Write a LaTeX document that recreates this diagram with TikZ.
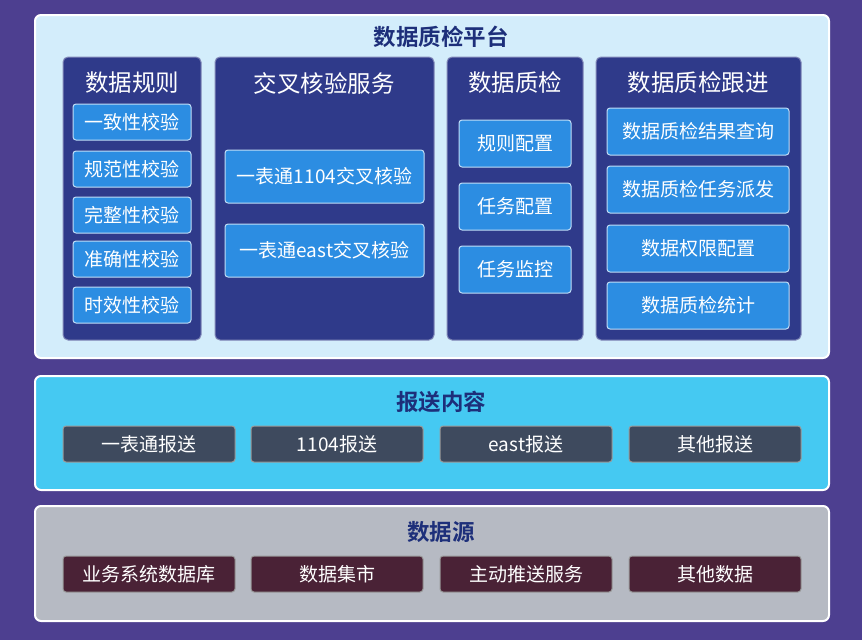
\documentclass[tikz,border=0pt]{standalone}
\usepackage{fontspec}
\newfontfamily\cjk{Noto Sans CJK SC}
\newfontfamily\cjkb{Noto Sans CJK SC Bold}
\definecolor{bgp}{HTML}{4D3F90}
\definecolor{toppan}{HTML}{D3EDFB}
\definecolor{midpan}{HTML}{45C9F2}
\definecolor{botpan}{HTML}{B6BAC3}
\definecolor{navy}{HTML}{2F3A8A}
\definecolor{btnblue}{HTML}{2C8DE2}
\definecolor{slate}{HTML}{3E4A5E}
\definecolor{maroon}{HTML}{4A2236}
\definecolor{ttl}{HTML}{1D2F7A}
\tikzset{
 panel/.style={draw=white,line width=2pt,rounded corners=6pt},
 col/.style={fill=navy,draw=navy!60!white,line width=1pt,rounded corners=5pt},
 btn/.style={fill=btnblue,draw=white!70!btnblue,line width=1pt,rounded corners=3pt},
 dbtn/.style={draw=white!60!black,line width=1pt,rounded corners=3pt},
 btxt/.style={text=white,font=\cjk\fontsize{19}{22}\selectfont},
 ptitle/.style={text=ttl,font=\cjkb\fontsize{22.5}{26}\selectfont},
 ctitle/.style={text=white,font=\cjk\fontsize{23.5}{27}\selectfont},
}
\newcommand\bx[6]{\node[#1,minimum width=#4-#2,minimum height=#5-#3,inner sep=0pt] (#6) at ({(#2+#4)/2},{(#3+#5)/2}) {};}
\begin{document}
\begin{tikzpicture}[x=1pt,y=-1pt]
\fill[bgp] (0,0) rectangle (862,640);
\useasboundingbox (0,0) rectangle (862,640);
\bx{panel,fill=toppan}{35}{15}{829}{358}{top}
\node[ptitle] (t1) at (441,37) {数据质检平台};
\bx{col}{63}{57}{201}{340}{c1}
\bx{col}{215}{57}{434}{340}{c2}
\bx{col}{447}{57}{583}{340}{c3}
\bx{col}{596}{57}{801}{340}{c4}
\node[ctitle] (h1) at (132,83) {数据规则};
\node[ctitle] (h2) at (324,83) {交叉核验服务};
\node[ctitle] (h3) at (515,83) {数据质检};
\node[ctitle] (h4) at (698,83) {数据质检跟进};
\foreach \a/\b/\t [count=\i] in {104/140/一致性校验,151/187/规范性校验,197/233/完整性校验,241/277/准确性校验,287/323/时效性校验}
 {\bx{btn}{73}{\a}{191}{\b}{a\i}\node[btxt] at (a\i) {\t};}
\foreach \a/\b/\t [count=\i] in {150/203/一表通1104交叉核验,224/277/一表通east交叉核验}
 {\bx{btn}{225}{\a}{424}{\b}{b\i}\node[btxt] at (b\i) {\t};}
\foreach \a/\b/\t [count=\i] in {120/167/规则配置,183/230/任务配置,246/293/任务监控}
 {\bx{btn}{459}{\a}{571}{\b}{d\i}\node[btxt] at (d\i) {\t};}
\foreach \a/\b/\t [count=\i] in {108/155/数据质检结果查询,166/213/数据质检任务派发,225/272/数据权限配置,282/329/数据质检统计}
 {\bx{btn}{607}{\a}{789}{\b}{e\i}\node[btxt] at (e\i) {\t};}
\bx{panel,fill=midpan}{35}{376}{829}{490}{mid}
\node[ptitle] (t2) at (441,402) {报送内容};
\foreach \x/\y/\t [count=\i] in {63/235/一表通报送,251/423/1104报送,440/612/east报送,629/801/其他报送}
 {\bx{dbtn,fill=slate}{\x}{426}{\y}{462}{m\i}\node[btxt] at (m\i) {\t};}
\bx{panel,fill=botpan}{35}{506}{829}{621}{bot}
\node[ptitle] (t3) at (441,532) {数据源};
\foreach \x/\y/\t [count=\i] in {63/235/业务系统数据库,251/423/数据集市,440/612/主动推送服务,629/801/其他数据}
 {\bx{dbtn,fill=maroon}{\x}{556}{\y}{592}{s\i}\node[btxt] at (s\i) {\t};}
\end{tikzpicture}
\end{document}
